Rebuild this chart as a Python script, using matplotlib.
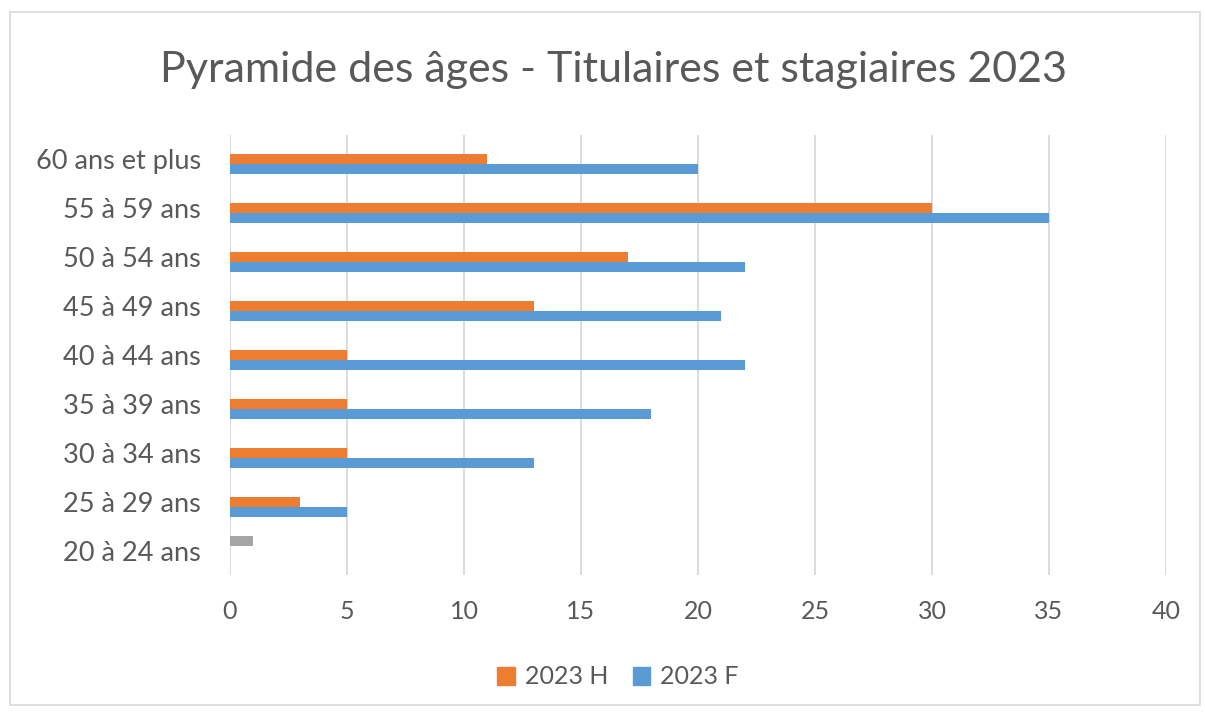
import matplotlib
matplotlib.use("Agg")
import matplotlib.pyplot as plt
from matplotlib.patches import Rectangle, Patch
import numpy as np

categories = ["20 à 24 ans", "25 à 29 ans", "30 à 34 ans", "35 à 39 ans", "40 à 44 ans",
              "45 à 49 ans", "50 à 54 ans", "55 à 59 ans", "60 ans et plus"]
h_values = [0, 3, 5, 5, 5, 13, 17, 30, 11]
f_values = [0, 5, 13, 18, 22, 21, 22, 35, 20]
other_values = [1, 0, 0, 0, 0, 0, 0, 0, 0]
xticks = [0, 5, 10, 15, 20, 25, 30, 35, 40]

plt.rcParams['font.family'] = ['Lato', 'DejaVu Sans']
txt = '#595959'
W, H = 1205, 716
fig = plt.figure(figsize=(W/100, H/100), dpi=100)
fig.patches.append(Rectangle((10/W, 1-705/H), 1190/W, 693/H, transform=fig.transFigure,
                             fill=False, edgecolor='#D9D9D9', linewidth=1.2))
ax = fig.add_axes([230/W, 1-575/H, 936/W, 440/H])
y = np.arange(len(categories))
bh = 0.205
ax.barh(y + bh, other_values, height=bh, color='#A5A5A5', zorder=3)
ax.barh(y, h_values, height=bh, color='#ED7D31', zorder=3, label='2023 H')
ax.barh(y - bh, f_values, height=bh, color='#5B9BD5', zorder=3, label='2023 F')
ax.set_xlim(0, 40)
ax.set_ylim(-0.5, 8.5)
ax.set_xticks(xticks)
ax.set_yticks(y)
ax.set_yticklabels(categories)
for s in ax.spines.values():
    s.set_visible(False)
ax.grid(axis='x', color='#D9D9D9', linewidth=1.3, zorder=0)
ax.tick_params(length=0, labelsize=18, colors=txt)
ax.tick_params(axis='y', labelsize=19.5, pad=21)
ax.tick_params(axis='x', pad=18)
fig.text(614/W, 1-70/H, "Pyramide des âges - Titulaires et stagiaires 2023", ha='center', va='center',
         fontsize=31, color=txt)
handles = [Patch(color='#ED7D31', label='2023 H'), Patch(color='#5B9BD5', label='2023 F')]
fig.legend(handles=handles, loc='center', bbox_to_anchor=(618/W, 1-677/H), ncol=2, frameon=False,
           fontsize=18, labelcolor=txt, handlelength=0.7, handleheight=0.7, handletextpad=0.4,
           columnspacing=1.0)
fig.savefig('out.png', dpi=100)
